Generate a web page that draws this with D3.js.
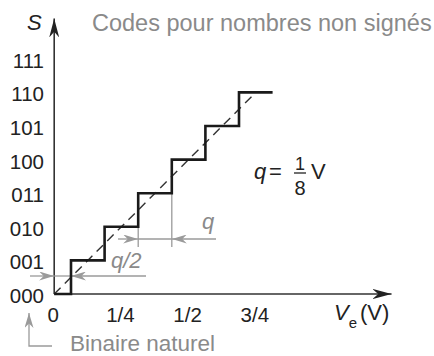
<!DOCTYPE html>
<html>
<head>
<meta charset="utf-8">
<script src="https://d3js.org/d3.v7.min.js"></script>
<style>
body { margin: 0; background: #fff; }
svg { font-family: "Liberation Sans", Arial, sans-serif; }
.tick-label { font-size: 20.5px; fill: #222; }
.gray { fill: #8a8a8a; }
</style>
</head>
<body>
<div id="chart"></div>
<script>
// codes on the S axis
var codes = ["000", "001", "010", "011", "100", "101", "110", "111"];
// x tick values (V) and their labels
var xTicks = [0, 0.25, 0.5, 0.75];
var xTickLabels = ["0", "1/4", "1/2", "3/4"];
// staircase: input voltage where each code starts, and the code
var stepV = [0, 1/16, 3/16, 5/16, 7/16, 9/16, 11/16, 13/16];
var stepCode = [0, 1, 2, 3, 4, 5, 6, 6];
// ideal line S = V / q
var idealV = [0, 0.75];
var idealCode = [0, 6];

var width = 434, height = 356;
var grayLine = "#9a9a9a";

var x = d3.scaleLinear().domain([0, 1]).range([54.2, 323]);
var y = d3.scaleLinear().domain([0, 7]).range([294, 58.8]);

var svg = d3.select("#chart").append("svg")
  .attr("width", width)
  .attr("height", height);

/* arrowheads */
var defs = svg.append("defs");
function marker(id, color, len, half) {
  defs.append("marker")
    .attr("id", id)
    .attr("viewBox", `0 ${-half} ${len} ${2 * half}`)
    .attr("refX", len).attr("refY", 0)
    .attr("markerUnits", "userSpaceOnUse")
    .attr("markerWidth", len).attr("markerHeight", 2 * half)
    .attr("orient", "auto")
    .append("path")
    .attr("d", `M0,${-half} L${len},0 L0,${half} L${len * 0.3},0 Z`)
    .attr("fill", color);
}
marker("axisArrow", "#222", 19, 5);
marker("grayArrow", "#9a9a9a", 15, 4.5);

/* axes */
svg.append("line")
  .attr("x1", x(0)).attr("y1", y(0))
  .attr("x2", x(1.255)).attr("y2", y(0))
  .attr("stroke", "#333").attr("stroke-width", 1.6)
  .attr("marker-end", "url(#axisArrow)");
svg.append("line")
  .attr("x1", x(0)).attr("y1", y(0))
  .attr("x2", x(0)).attr("y2", y(8.2))
  .attr("stroke", "#333").attr("stroke-width", 1.6)
  .attr("marker-end", "url(#axisArrow)");

/* y tick labels */
svg.selectAll(".ylab")
  .data(codes).enter()
  .append("text")
  .attr("class", "tick-label")
  .attr("x", 44)
  .attr("y", (d, i) => y(i) + 9)
  .attr("text-anchor", "end")
  .text(d => d);

/* x tick labels */
svg.selectAll(".xlab")
  .data(xTicks).enter()
  .append("text")
  .attr("class", "tick-label")
  .attr("x", d => x(d) - 1)
  .attr("y", 322)
  .attr("text-anchor", "middle")
  .text((d, i) => xTickLabels[i]);

/* axis titles */
svg.append("text")
  .attr("x", 27).attr("y", 30)
  .style("font-size", "22px").style("font-style", "italic").attr("fill", "#222")
  .text("S");
var ve = svg.append("text")
  .attr("x", 334).attr("y", 320)
  .style("font-size", "22px").attr("fill", "#222");
ve.append("tspan").style("font-style", "italic").text("V");
ve.append("tspan").attr("dy", 8).style("font-size", "15px").text("e");
ve.append("tspan").attr("dy", -8).attr("dx", 3).text("(V)");

/* title */
svg.append("text")
  .attr("x", 92).attr("y", 31)
  .attr("class", "gray")
  .style("font-size", "23.5px")
  .text("Codes pour nombres non signés");

/* q = 1/8 V */
var qx = 254, qy = 179;
svg.append("text").attr("x", qx).attr("y", qy)
  .style("font-size", "22px").style("font-style", "italic").attr("fill", "#222").text("q");
svg.append("text").attr("x", qx + 15).attr("y", qy)
  .style("font-size", "22px").attr("fill", "#222").text("=");
svg.append("text").attr("x", qx + 46).attr("y", qy - 9)
  .style("font-size", "18px").attr("text-anchor", "middle").attr("fill", "#222").text("1");
svg.append("line").attr("x1", qx + 40).attr("x2", qx + 52)
  .attr("y1", qy - 6).attr("y2", qy - 6).attr("stroke", "#222").attr("stroke-width", 1.3);
svg.append("text").attr("x", qx + 46).attr("y", qy + 16)
  .style("font-size", "20px").attr("text-anchor", "middle").attr("fill", "#222").text("8");
svg.append("text").attr("x", qx + 57).attr("y", qy)
  .style("font-size", "22px").attr("fill", "#222").text("V");

/* gray dimension lines: q */
var g = svg.append("g").attr("stroke", grayLine).attr("stroke-width", 1.3).attr("fill", "none");
var qLineY = 239;
g.append("line").attr("x1", x(5/16)).attr("x2", x(5/16)).attr("y1", y(2)).attr("y2", qLineY + 8);
g.append("line").attr("x1", x(7/16)).attr("x2", x(7/16)).attr("y1", y(3)).attr("y2", qLineY + 8);
g.append("line").attr("x1", x(5/16)).attr("x2", x(7/16)).attr("y1", qLineY).attr("y2", qLineY);
g.append("line").attr("x1", 118).attr("x2", x(5/16)).attr("y1", qLineY).attr("y2", qLineY)
  .attr("marker-end", "url(#grayArrow)");
g.append("line").attr("x1", 216).attr("x2", x(7/16)).attr("y1", qLineY).attr("y2", qLineY)
  .attr("marker-end", "url(#grayArrow)");
svg.append("text").attr("x", 202).attr("y", 229)
  .attr("class", "gray").style("font-size", "22px").style("font-style", "italic").text("q");

/* gray dimension lines: q/2 */
var hLineY = 276;
g.append("line").attr("x1", x(0)).attr("x2", x(1/16)).attr("y1", hLineY).attr("y2", hLineY);
g.append("line").attr("x1", 30).attr("x2", x(0)).attr("y1", hLineY).attr("y2", hLineY)
  .attr("marker-end", "url(#grayArrow)");
g.append("line").attr("x1", 146).attr("x2", x(1/16)).attr("y1", hLineY).attr("y2", hLineY)
  .attr("marker-end", "url(#grayArrow)");
svg.append("text").attr("x", 111).attr("y", 268)
  .attr("class", "gray").style("font-size", "22px").style("font-style", "italic").text("q/2");

/* Binaire naturel */
g.append("path").attr("d", "M52,346 L29,346 L29,313")
  .attr("marker-end", "url(#grayArrow)");
svg.append("text").attr("x", 70).attr("y", 351)
  .attr("class", "gray").style("font-size", "22.5px").text("Binaire naturel");

/* ideal dashed line */
var ideal = idealV.map((v, i) => ({v: v, c: idealCode[i]}));
svg.append("path")
  .datum(ideal)
  .attr("d", d3.line().x(d => x(d.v)).y(d => y(d.c)))
  .attr("stroke", "#333").attr("stroke-width", 1.4)
  .attr("stroke-dasharray", "9,6").attr("fill", "none");

/* staircase */
var steps = stepV.map((v, i) => ({v: v, c: stepCode[i]}));
svg.append("path")
  .datum(steps)
  .attr("d", d3.line().curve(d3.curveStepAfter).x(d => x(d.v)).y(d => y(d.c)))
  .attr("stroke", "#1a1a1a").attr("stroke-width", 2.6).attr("fill", "none");
</script>
</body>
</html>
